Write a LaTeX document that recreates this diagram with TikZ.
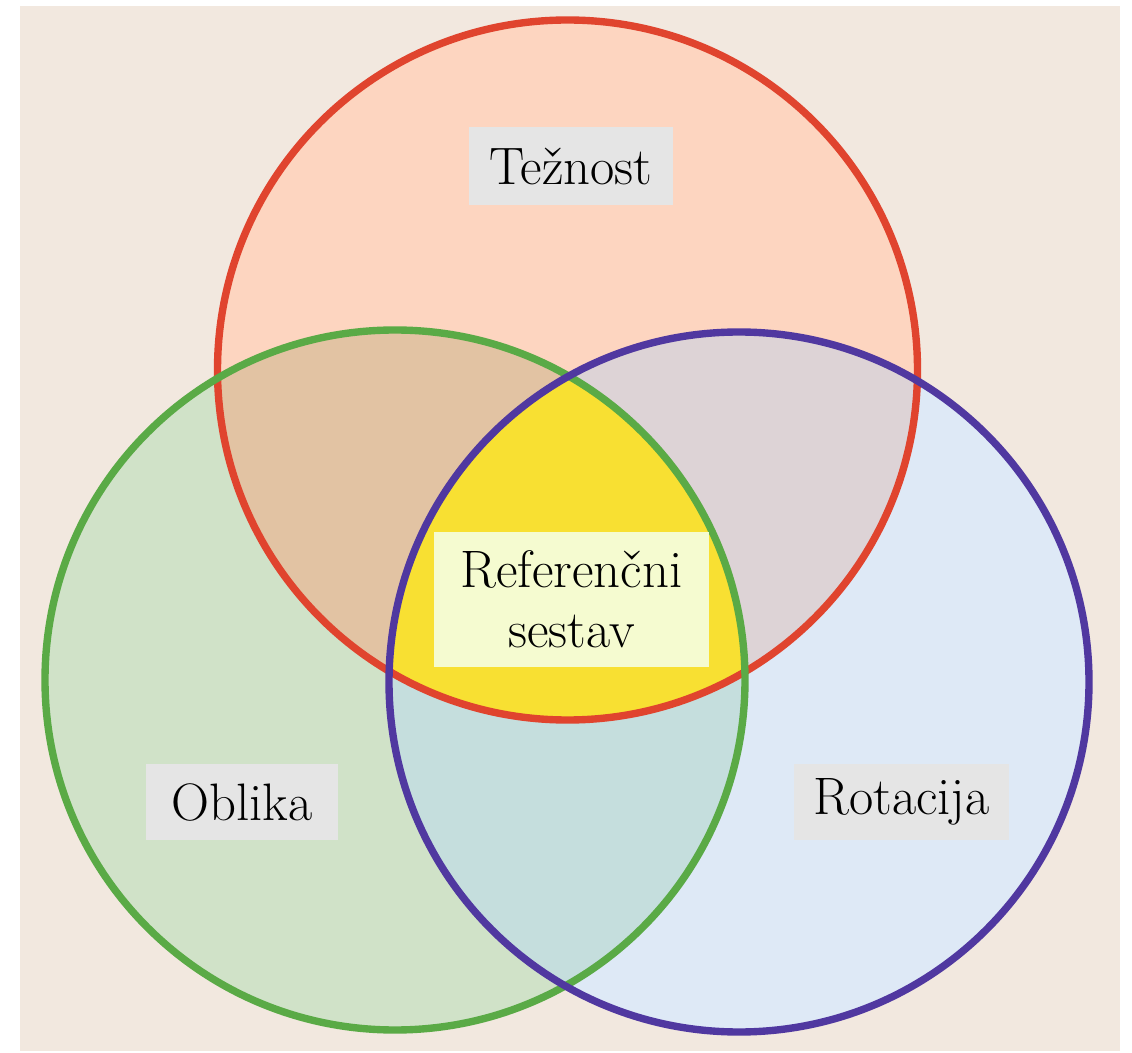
\documentclass[tikz,border=0pt]{standalone}
\begin{document}
\begin{tikzpicture}[x=0.02cm,y=-0.02cm,
  lbl/.style={fill=boxgrey,inner sep=0pt,font=\fontsize{30}{34}\selectfont,text=black},
  ring/.style={line width=4.2pt}]
\definecolor{bg}{HTML}{F2E8DF}
\definecolor{redfill}{HTML}{FDD5C0}
\definecolor{greenfill}{HTML}{D0E2C8}
\definecolor{bluefill}{HTML}{DEE9F6}
\definecolor{rg}{HTML}{E2C3A3}
\definecolor{rb}{HTML}{DDD3D6}
\definecolor{gb}{HTML}{C5DEDD}
\definecolor{center}{HTML}{F8E032}
\definecolor{redline}{HTML}{E0442E}
\definecolor{greenline}{HTML}{5AAA46}
\definecolor{blueline}{HTML}{5038A0}
\definecolor{boxgrey}{HTML}{E5E5E5}
\definecolor{boxyellow}{HTML}{F5FBD0}
\useasboundingbox (0,0) rectangle (1132,1053);
\fill[white] (0,0) rectangle (1132,1053);
\fill[bg] (20,6) rectangle (1120,1051);
\def\R{350}
\coordinate (cr) at (567.5,370);
\coordinate (cg) at (395,680);
\coordinate (cb) at (739,682);
% fills
\fill[redfill] (cr) circle (\R);
\fill[greenfill] (cg) circle (\R);
\fill[bluefill] (cb) circle (\R);
\begin{scope}
  \clip (cr) circle (\R);
  \fill[rg] (cg) circle (\R);
  \fill[rb] (cb) circle (\R);
\end{scope}
\begin{scope}
  \clip (cg) circle (\R);
  \fill[gb] (cb) circle (\R);
  \clip (cb) circle (\R);
  \fill[center] (cr) circle (\R);
\end{scope}
% strokes
\draw[ring,redline] (cr) circle (\R);
\draw[ring,greenline] (cg) circle (\R);
\draw[ring,blueline] (cb) circle (\R);
% labels
\node[lbl,minimum width=204*0.02cm,minimum height=78*0.02cm] (tez) at (571,166) {Težnost};
\node[lbl,fill=boxyellow,minimum width=275*0.02cm,minimum height=135*0.02cm,align=center] (ref) at (571.5,599.5) {Referenčni\\sestav};
\node[lbl,minimum width=192*0.02cm,minimum height=76*0.02cm] (obl) at (242,802) {Oblika};
\node[lbl,minimum width=215*0.02cm,minimum height=76*0.02cm] (rot) at (901.5,802) {Rotacija};
\end{tikzpicture}
\end{document}
